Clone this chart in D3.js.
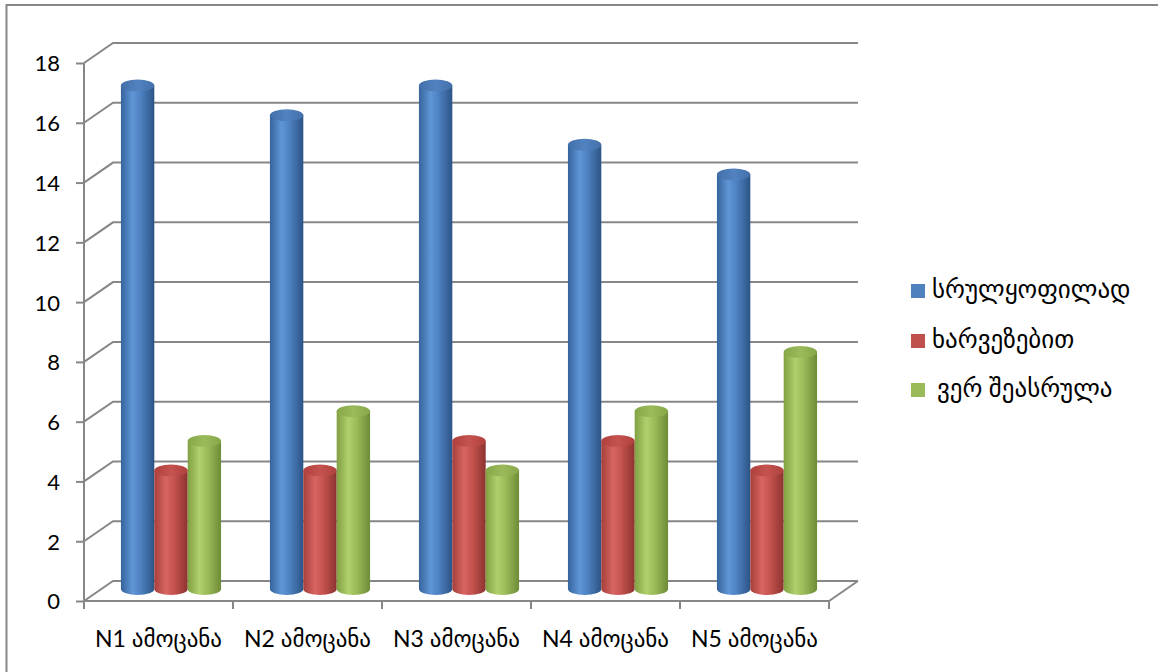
<!DOCTYPE html>
<html>
<head>
<meta charset="utf-8">
<script src="https://cdn.jsdelivr.net/npm/d3@7"></script>
<style>
  html, body { margin: 0; padding: 0; background: #fff; }
  svg { display: block; }
  text { font-family: "Lato", "DejaVu Sans", sans-serif; fill: #000; }
</style>
</head>
<body>
<svg id="chart" width="1158" height="672"></svg>
<script>
// Task categories
const categories = ["N1 ამოცანა", "N2 ამოცანა", "N3 ამოცანა", "N4 ამოცანა", "N5 ამოცანა"];
// Series names (legend)
const seriesNames = ["სრულყოფილად", "ხარვეზებით", "ვერ შეასრულა"];
// Values per series, one per category
const fullValues = [17, 16, 17, 15, 14];
const flawValues = [4, 4, 5, 5, 4];
const failValues = [5, 6, 4, 6, 8];
// Y axis ticks
const yTicks = [0, 2, 4, 6, 8, 10, 12, 14, 16, 18];

const seriesValues = [fullValues, flawValues, failValues];

// Cylinder palette: edge dark, highlight, mid, far edge, top
const palettes = [
  { dark: "#36649d", light: "#6096d6", mid: "#4d80c0", far: "#2c5485", top: "#426fa9", topLight: "#5283c0" },
  { dark: "#a53f3c", light: "#d86561", mid: "#c4524e", far: "#8c3330", top: "#b0403d", topLight: "#c55450" },
  { dark: "#80a042", light: "#b0d06e", mid: "#9bbb59", far: "#6e8b36", top: "#86a748", topLight: "#9aba5b" }
];
const legendColors = ["#4f81bd", "#c0504d", "#9bbb59"];

const svg = d3.select("#chart");
const gridColor = "#878787";

// Outer frame
svg.append("rect")
  .attr("x", 6.5).attr("y", 5).attr("width", 1160).attr("height", 680)
  .attr("fill", "none").attr("stroke", gridColor).attr("stroke-width", 2);

// Front-plane scales
const x0 = d3.scaleBand().domain(categories).range([84, 829]);
const yFront = d3.scaleLinear().domain([0, 18]).range([601, 63]);

// Depth of the 3D box (front plane → back wall)
const depthX = 29, depthY = -20;
// Bars stand at mid depth
const barDX = 12.5;
const yBar = d3.scaleLinear().domain([0, 18]).range([589, 56]);

const groupW = x0.bandwidth() * 0.672;
const x1 = d3.scaleBand().domain(d3.range(seriesNames.length)).range([0, groupW]);

// Back wall gridlines with the side-wall diagonals
const grid = svg.append("g");
yTicks.forEach(t => {
  const yf = yFront(t);
  grid.append("path")
    .attr("d", `M${x0.range()[0]},${yf} L${x0.range()[0] + depthX},${yf + depthY} L${x0.range()[1] + depthX},${yf + depthY}`)
    .attr("fill", "none").attr("stroke", gridColor).attr("stroke-width", 2);
});

// Floor front edge and right edge
grid.append("path")
  .attr("d", `M${x0.range()[0]},${yFront(0)} L${x0.range()[1]},${yFront(0)} L${x0.range()[1] + depthX},${yFront(0) + depthY}`)
  .attr("fill", "none").attr("stroke", gridColor).attr("stroke-width", 2);

// Y axis
const yAxis = d3.axisLeft(yFront).tickValues(yTicks).tickSize(8).tickPadding(16);
const yG = svg.append("g").attr("transform", `translate(${x0.range()[0]},0)`).call(yAxis);
yG.select(".domain").attr("stroke", gridColor).attr("stroke-width", 2).attr("d", `M0,${yFront(18)}V${yFront(0)}`);
yG.selectAll(".tick line").attr("stroke", gridColor).attr("stroke-width", 2);
yG.selectAll(".tick text").attr("font-size", 22).attr("font-family", "Lato, 'DejaVu Sans', sans-serif").attr("dy", "0.36em");

// X axis ticks at category boundaries
const xBounds = categories.map(c => x0(c)).concat([x0.range()[1]]);
svg.append("g").selectAll("line").data(xBounds).join("line")
  .attr("x1", d => d).attr("x2", d => d)
  .attr("y1", yFront(0)).attr("y2", yFront(0) + 8)
  .attr("stroke", gridColor).attr("stroke-width", 2);

// Category labels
svg.append("g").selectAll("text").data(categories).join("text")
  .attr("x", d => x0(d) + x0.bandwidth() / 2)
  .attr("y", 647)
  .attr("text-anchor", "middle")
  .attr("font-size", 23)
  .text(d => d);

// Gradients
const defs = svg.append("defs");
palettes.forEach((p, i) => {
  const g = defs.append("linearGradient").attr("id", "body" + i).attr("x1", 0).attr("x2", 1).attr("y1", 0).attr("y2", 0);
  g.append("stop").attr("offset", "0%").attr("stop-color", p.dark);
  g.append("stop").attr("offset", "35%").attr("stop-color", p.light);
  g.append("stop").attr("offset", "60%").attr("stop-color", p.mid);
  g.append("stop").attr("offset", "100%").attr("stop-color", p.far);
  const t = defs.append("linearGradient").attr("id", "top" + i).attr("x1", 0).attr("x2", 1).attr("y1", 0).attr("y2", 0);
  t.append("stop").attr("offset", "0%").attr("stop-color", p.top);
  t.append("stop").attr("offset", "50%").attr("stop-color", p.topLight);
  t.append("stop").attr("offset", "100%").attr("stop-color", p.top);
});

// Cylinders
const bars = [];
categories.forEach((c, ci) => {
  seriesNames.forEach((s, si) => {
    bars.push({ cat: c, si, value: seriesValues[si][ci] });
  });
});
const ry = 6;
const barG = svg.append("g");
bars.forEach(b => {
  const left = x0(b.cat) + (x0.bandwidth() - groupW) / 2 + barDX + x1(b.si);
  const w = x1.bandwidth();
  const rx = w / 2;
  const yTop = yBar(b.value), yBot = yBar(0);
  barG.append("path")
    .attr("d", `M${left},${yTop} L${left},${yBot} A${rx},${ry} 0 0 0 ${left + w},${yBot} L${left + w},${yTop} Z`)
    .attr("fill", `url(#body${b.si})`);
  barG.append("ellipse")
    .attr("cx", left + rx).attr("cy", yTop).attr("rx", rx).attr("ry", ry)
    .attr("fill", `url(#top${b.si})`);
});

// Legend
const legend = svg.append("g");
const legendY = [291, 341, 390];
seriesNames.forEach((s, i) => {
  legend.append("rect")
    .attr("x", 911).attr("y", legendY[i] - 7).attr("width", 14).attr("height", 14)
    .attr("fill", legendColors[i]);
  legend.append("text")
    .attr("x", i === 2 ? 937 : 932).attr("y", legendY[i] + 7)
    .attr("font-size", 25)
    .text(s);
});
</script>
</body>
</html>
